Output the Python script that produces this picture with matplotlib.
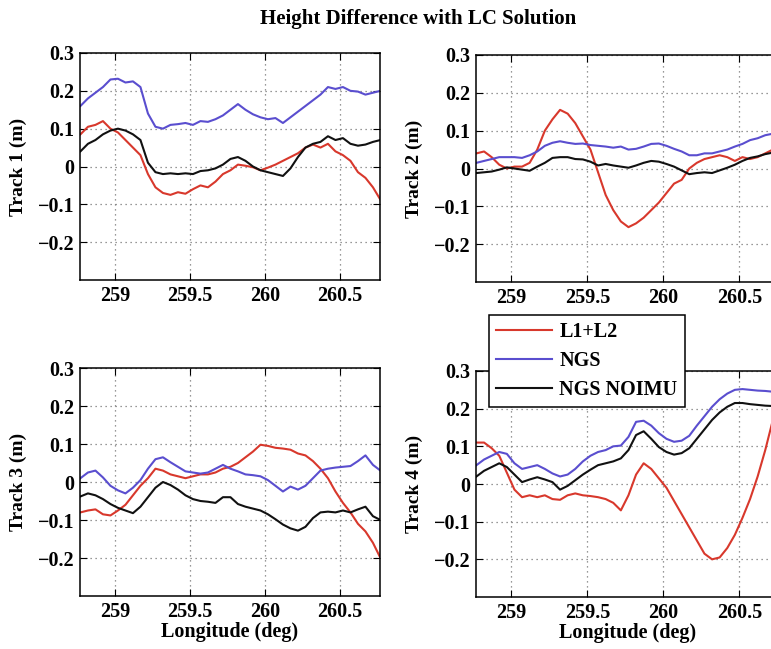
import matplotlib
matplotlib.use("Agg")
import matplotlib.pyplot as plt

plt.rcParams['font.family'] = ['Liberation Serif', 'DejaVu Serif']
plt.rcParams['font.weight'] = 'bold'
plt.rcParams['axes.unicode_minus'] = True

# longitude samples (deg)
lon = [258.77, 258.82, 258.87, 258.92, 258.97, 259.02, 259.07, 259.12, 259.17,
       259.22, 259.27, 259.32, 259.37, 259.42, 259.47, 259.52, 259.57, 259.62,
       259.67, 259.72, 259.77, 259.82, 259.87, 259.92, 259.97, 260.02, 260.07,
       260.12, 260.17, 260.22, 260.27, 260.32, 260.37, 260.42, 260.47, 260.52,
       260.57, 260.62, 260.67, 260.72, 260.77]

# Track 1
t1_l1l2 = [0.085, 0.105, 0.11, 0.12, 0.10, 0.09, 0.07, 0.05, 0.03, -0.02,
           -0.055, -0.07, -0.075, -0.068, -0.072, -0.06, -0.05, -0.055, -0.04,
           -0.02, -0.01, 0.005, 0.002, -0.002, -0.01, -0.003, 0.005, 0.015,
           0.025, 0.035, 0.05, 0.058, 0.05, 0.06, 0.04, 0.03, 0.015, -0.015,
           -0.03, -0.055, -0.088]
t1_ngs = [0.16, 0.18, 0.195, 0.21, 0.23, 0.232, 0.222, 0.225, 0.21, 0.14,
          0.105, 0.10, 0.11, 0.112, 0.115, 0.11, 0.12, 0.118, 0.125, 0.135,
          0.15, 0.165, 0.15, 0.138, 0.13, 0.125, 0.128, 0.115, 0.13, 0.145,
          0.16, 0.175, 0.19, 0.21, 0.205, 0.21, 0.20, 0.198, 0.19, 0.195, 0.20]
t1_noimu = [0.04, 0.06, 0.07, 0.085, 0.095, 0.10, 0.095, 0.085, 0.07, 0.01,
            -0.015, -0.02, -0.018, -0.02, -0.018, -0.02, -0.012, -0.01, -0.005,
            0.005, 0.02, 0.025, 0.015, 0.0, -0.01, -0.015, -0.02, -0.025,
            -0.005, 0.025, 0.05, 0.06, 0.065, 0.08, 0.07, 0.075, 0.06, 0.055,
            0.058, 0.065, 0.07]

# Track 2
t2_l1l2 = [0.04, 0.045, 0.03, 0.01, 0.0, 0.005, 0.005, 0.015, 0.05, 0.10,
           0.13, 0.155, 0.145, 0.12, 0.085, 0.05, -0.01, -0.07, -0.11, -0.14,
           -0.155, -0.145, -0.13, -0.11, -0.09, -0.065, -0.04, -0.03, 0.0,
           0.015, 0.025, 0.03, 0.035, 0.03, 0.02, 0.03, 0.025, 0.03, 0.04,
           0.05, 0.055]
t2_ngs = [0.015, 0.02, 0.025, 0.03, 0.03, 0.03, 0.028, 0.035, 0.045, 0.06,
          0.068, 0.072, 0.068, 0.065, 0.066, 0.062, 0.06, 0.058, 0.055, 0.058,
          0.05, 0.052, 0.058, 0.065, 0.066, 0.06, 0.052, 0.045, 0.035, 0.035,
          0.04, 0.04, 0.045, 0.05, 0.058, 0.065, 0.075, 0.08, 0.088, 0.092,
          0.095]
t2_noimu = [-0.012, -0.01, -0.008, -0.003, 0.003, 0.0, -0.003, -0.006, 0.005,
            0.015, 0.028, 0.03, 0.03, 0.025, 0.024, 0.018, 0.008, 0.012, 0.008,
            0.005, 0.002, 0.008, 0.015, 0.02, 0.018, 0.012, 0.005, -0.005,
            -0.015, -0.012, -0.01, -0.012, -0.005, 0.002, 0.01, 0.02, 0.028,
            0.032, 0.038, 0.042, 0.045]

# Track 3
t3_l1l2 = [-0.08, -0.075, -0.072, -0.085, -0.088, -0.075, -0.06, -0.035,
           -0.01, 0.01, 0.035, 0.03, 0.02, 0.015, 0.01, 0.015, 0.02, 0.02,
           0.025, 0.035, 0.04, 0.05, 0.065, 0.08, 0.098, 0.095, 0.09, 0.088,
           0.085, 0.075, 0.07, 0.055, 0.035, 0.01, -0.025, -0.055, -0.08,
           -0.11, -0.13, -0.16, -0.20]
t3_ngs = [0.01, 0.025, 0.03, 0.012, -0.01, -0.022, -0.03, -0.015, 0.005,
          0.035, 0.06, 0.065, 0.052, 0.04, 0.028, 0.025, 0.022, 0.025, 0.035,
          0.045, 0.035, 0.028, 0.02, 0.018, 0.015, 0.005, -0.01, -0.025,
          -0.012, -0.02, -0.01, 0.01, 0.03, 0.035, 0.038, 0.04, 0.042, 0.055,
          0.07, 0.045, 0.03]
t3_noimu = [-0.038, -0.03, -0.035, -0.045, -0.058, -0.068, -0.075, -0.082,
            -0.065, -0.04, -0.015, 0.0, -0.008, -0.02, -0.035, -0.045, -0.05,
            -0.052, -0.055, -0.04, -0.04, -0.058, -0.065, -0.07, -0.075,
            -0.085, -0.098, -0.112, -0.122, -0.128, -0.118, -0.095, -0.08,
            -0.078, -0.08, -0.075, -0.08, -0.072, -0.065, -0.09, -0.10]

# Track 4
t4_l1l2 = [0.11, 0.11, 0.095, 0.075, 0.03, -0.015, -0.035, -0.03, -0.035,
           -0.03, -0.04, -0.042, -0.03, -0.025, -0.03, -0.032, -0.035, -0.04,
           -0.05, -0.07, -0.03, 0.025, 0.055, 0.04, 0.015, -0.01, -0.045,
           -0.08, -0.115, -0.15, -0.185, -0.2, -0.195, -0.17, -0.135, -0.09,
           -0.04, 0.02, 0.09, 0.17, 0.22]
t4_ngs = [0.05, 0.065, 0.075, 0.085, 0.08, 0.055, 0.04, 0.045, 0.05, 0.04,
          0.028, 0.02, 0.025, 0.04, 0.06, 0.075, 0.085, 0.09, 0.10, 0.102,
          0.125, 0.165, 0.168, 0.155, 0.135, 0.12, 0.112, 0.115, 0.128, 0.155,
          0.18, 0.205, 0.225, 0.24, 0.25, 0.252, 0.25, 0.248, 0.247, 0.245,
          0.245]
t4_noimu = [0.02, 0.035, 0.045, 0.055, 0.045, 0.025, 0.005, 0.012, 0.018,
            0.012, 0.005, -0.015, -0.005, 0.01, 0.025, 0.038, 0.05, 0.055,
            0.06, 0.068, 0.09, 0.13, 0.14, 0.12, 0.098, 0.085, 0.078, 0.082,
            0.095, 0.12, 0.145, 0.17, 0.19, 0.205, 0.215, 0.215, 0.212, 0.21,
            0.208, 0.207, 0.205]

tracks = [(t1_l1l2, t1_ngs, t1_noimu), (t2_l1l2, t2_ngs, t2_noimu),
          (t3_l1l2, t3_ngs, t3_noimu), (t4_l1l2, t4_ngs, t4_noimu)]
track_names = ['Track 1 (m)', 'Track 2 (m)', 'Track 3 (m)', 'Track 4 (m)']
series_names = ['L1+L2', 'NGS', 'NGS NOIMU']
series_colors = ['#d8382c', '#5a4ecf', '#111111']

xticks = [259, 259.5, 260, 260.5]
xtick_labels = ['259', '259.5', '260', '260.5']
yticks = [-0.2, -0.1, 0, 0.1, 0.2, 0.3]
ytick_labels = ['\u22120.2', '\u22120.1', '0', '0.1', '0.2', '0.3']

W, H = 771, 649
fig = plt.figure(figsize=(W / 100, H / 100), dpi=100)

# axes boxes in pixels: left, top, width, height
boxes = [(80, 53, 300, 227), (476, 55, 304, 227),
         (80, 368, 300, 228), (476, 371, 304, 226)]

fs = 14.5
axes = []
for i, (bx, by, bw, bh) in enumerate(boxes):
    ax = fig.add_axes([bx / W, 1 - (by + bh) / H, bw / W, bh / H])
    lines = []
    for vals, name, col in zip(tracks[i], series_names, series_colors):
        ln, = ax.plot(lon, vals, color=col, lw=1.5, label=name)
        lines.append(ln)
    ax.set_xlim(258.767, 260.767)
    ax.set_ylim(-0.3, 0.3)
    ax.set_xticks(xticks, xtick_labels)
    ax.set_yticks(yticks, ytick_labels)
    ax.grid(True, linestyle=(0, (1, 3)), color='#777777', lw=0.9)
    ax.tick_params(direction='in', top=True, right=True, length=5,
                   labelsize=fs, pad=4)
    for sp in ax.spines.values():
        sp.set_linewidth(1.1)
    ax.set_ylabel(track_names[i], fontsize=14, fontweight='bold')
    ax.yaxis.set_label_coords(-0.175, 0.5)
    if i >= 2:
        ax.set_xlabel('Longitude (deg)', fontsize=fs,
                      fontweight='bold', labelpad=0)
    axes.append(ax)

fig.text(418 / W, 1 - 19 / H, 'Height Difference with LC Solution',
         ha='center', va='center', fontsize=15, fontweight='bold')

leg = fig.legend(lines, series_names, loc='upper left',
                 bbox_to_anchor=(489 / W, 1 - 315 / H), fontsize=fs,
                 frameon=True, fancybox=False, edgecolor='black',
                 framealpha=1, handlelength=2.8, borderpad=0.35,
                 labelspacing=0.45, handletextpad=0.35, borderaxespad=0)
leg.get_frame().set_linewidth(1.1)

fig.savefig('out.png', dpi=100)
